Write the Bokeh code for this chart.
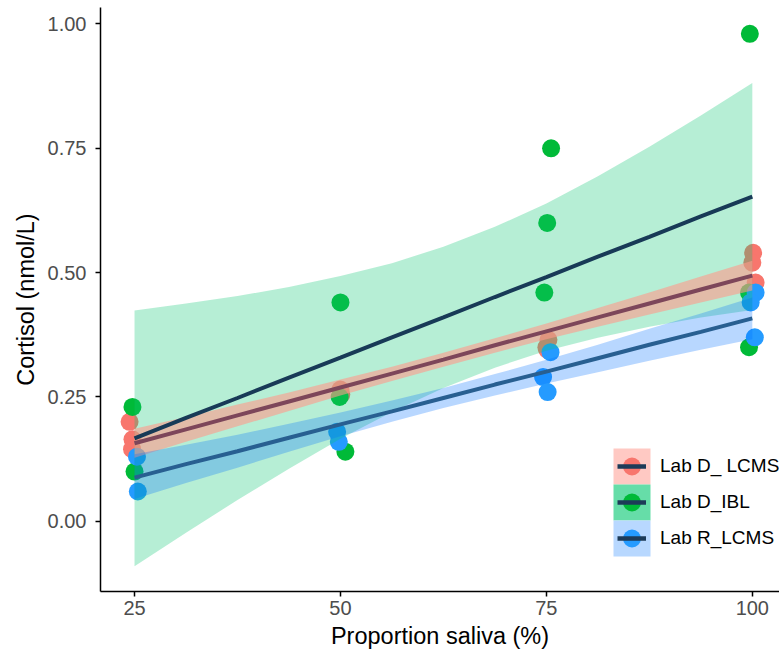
from bokeh.plotting import figure
from bokeh.models import (Range1d, FixedTicker, Legend, LegendItem, ColumnDataSource,
                          CustomJSTickFormatter)
from bokeh.embed import file_html
from bokeh.resources import INLINE

# ---------------- data ----------------
groups = ["Lab D_ LCMS", "Lab D_IBL", "Lab R_LCMS"]

lcms_d_x = [24.4, 24.75, 24.7, 50.0, 50.1, 75.25, 75.0, 75.1, 100.1, 100.0, 100.4]
lcms_d_y = [0.20, 0.165, 0.145, 0.265, 0.255, 0.365, 0.35, 0.345, 0.54, 0.52, 0.48]

ibl_x = [24.75, 25.0, 50.0, 49.9, 50.6, 75.57, 75.1, 74.75, 99.7, 99.6, 99.6]
ibl_y = [0.23, 0.10, 0.44, 0.25, 0.14, 0.75, 0.60, 0.46, 0.98, 0.46, 0.35]

lcms_r_x = [25.3, 25.4, 49.6, 49.8, 75.5, 74.6, 75.15, 100.4, 99.8, 100.3]
lcms_r_y = [0.13, 0.06, 0.18, 0.16, 0.34, 0.29, 0.26, 0.46, 0.44, 0.37]

# fitted lines and confidence bands, read at these x positions
fit_x = [25, 31.25, 37.5, 43.75, 50, 56.25, 62.5, 68.75, 75, 81.25, 87.5, 93.75, 100]

lcms_d_fit = [0.157, 0.185, 0.213, 0.241, 0.269, 0.297, 0.325, 0.354, 0.382, 0.410, 0.438, 0.466, 0.494]
lcms_d_hi = [0.186, 0.210, 0.235, 0.259, 0.285, 0.311, 0.339, 0.368, 0.398, 0.429, 0.460, 0.492, 0.524]
lcms_d_lo = [0.128, 0.160, 0.191, 0.222, 0.253, 0.282, 0.311, 0.339, 0.366, 0.391, 0.416, 0.440, 0.464]

ibl_fit = [0.167, 0.208, 0.248, 0.289, 0.329, 0.370, 0.410, 0.451, 0.491, 0.532, 0.572, 0.613, 0.653]
ibl_hi = [0.424, 0.438, 0.453, 0.471, 0.493, 0.519, 0.552, 0.592, 0.639, 0.694, 0.753, 0.816, 0.881]
ibl_lo = [-0.090, -0.023, 0.043, 0.106, 0.166, 0.220, 0.268, 0.309, 0.343, 0.369, 0.391, 0.410, 0.425]

lcms_r_fit = [0.088, 0.115, 0.141, 0.168, 0.195, 0.221, 0.248, 0.275, 0.301, 0.328, 0.355, 0.381, 0.408]
lcms_r_hi = [0.135, 0.154, 0.174, 0.196, 0.219, 0.243, 0.268, 0.296, 0.325, 0.355, 0.387, 0.418, 0.450]
lcms_r_lo = [0.045, 0.077, 0.108, 0.140, 0.171, 0.200, 0.228, 0.253, 0.277, 0.300, 0.323, 0.345, 0.366]

x_ticks = [25, 50, 75, 100]
y_ticks = [0.0, 0.25, 0.5, 0.75, 1.0]
x_title = "Proportion saliva (%)"
y_title = "Cortisol (nmol/L)"

# ---------------- styling / layout ----------------
FONT = "Liberation Sans"
pt_colors = ["#F8766D", "#00BA38", "#259BFF"]
band_colors = ["#FF998B", "#0CC673", "#006FFF"]
band_alpha = [0.6, 0.30, 0.28]
line_colors = ["#7D465A", "#183A57", "#285F91"]
key_colors = ["#FFC9C3", "#66DDA8", "#B8D8FF"]
NAVY = "#1D3B58"

W, H = 779, 657
BL, BR, BT, BB = 100, 0, 7, 66
FW, FH = W - BL - BR, H - BT - BB          # frame size in px

p = figure(width=W, height=H, output_backend="svg", toolbar_location=None,
           x_range=Range1d(20.87, 103.3), y_range=Range1d(-0.141, 1.033),
           min_border_left=BL, min_border_right=BR, min_border_top=BT,
           min_border_bottom=BB)
# pixel-space ranges of the frame, used for the legend key backgrounds
p.extra_x_ranges = {"px": Range1d(0, FW)}
p.extra_y_ranges = {"px": Range1d(0, FH)}
p.outline_line_color = None
p.xgrid.visible = False
p.ygrid.visible = False
p.background_fill_color = "white"
p.border_fill_color = "white"

# points (drawn first; ribbons overlay them)
pts = [(lcms_d_x, lcms_d_y), (ibl_x, ibl_y), (lcms_r_x, lcms_r_y)]
for (xs, ys), c in zip(pts, pt_colors):
    p.scatter(x=xs, y=ys, size=18, fill_color=c, line_color=None)

# ribbons: green first, then red, then blue
bands = [(lcms_d_lo, lcms_d_hi), (ibl_lo, ibl_hi), (lcms_r_lo, lcms_r_hi)]
for i in [1, 0, 2]:
    lo, hi = bands[i]
    p.varea(x=fit_x, y1=lo, y2=hi, fill_color=band_colors[i], fill_alpha=band_alpha[i])

# fitted lines
fits = [lcms_d_fit, ibl_fit, lcms_r_fit]
for i in [0, 2, 1]:
    p.line(x=fit_x, y=fits[i], line_color=line_colors[i], line_width=4)

# axes
p.xaxis.ticker = FixedTicker(ticks=x_ticks)
p.yaxis.ticker = FixedTicker(ticks=y_ticks)
p.yaxis.formatter = CustomJSTickFormatter(code="return tick.toFixed(2);")
for ax in (p.xaxis, p.yaxis):
    ax.axis_line_color = "black"
    ax.axis_line_width = 1.5
    ax.major_tick_line_color = "black"
    ax.major_tick_line_width = 1.5
    ax.major_tick_out = 5
    ax.major_tick_in = 0
    ax.minor_tick_line_color = None
    ax.major_label_text_font = FONT
    ax.major_label_text_font_size = "20px"
    ax.major_label_text_color = "#4D4D4D"
    ax.axis_label_text_font = FONT
    ax.axis_label_text_font_size = "23.5px"
    ax.axis_label_text_font_style = "normal"
    ax.axis_label_text_color = "black"
p.xaxis.axis_label = x_title
p.yaxis.axis_label = y_title
p.xaxis.major_label_standoff = 4
p.yaxis.major_label_standoff = 9
p.xaxis.axis_label_standoff = 5
p.yaxis.axis_label_standoff = 6

# ---------------- legend ----------------
KEY_L, KEY_W, KEY_H = 513, 37, 36        # key box geometry (frame px)
LEG_BOTTOM = 35                           # legend bottom (frame px)
n = len(groups)
key_src = ColumnDataSource(data=dict(
    l=[KEY_L] * n, r=[KEY_L + KEY_W] * n,
    t=[LEG_BOTTOM + (n - i) * KEY_H for i in range(n)],
    b=[LEG_BOTTOM + (n - i - 1) * KEY_H for i in range(n)],
    cx=[KEY_L + KEY_W / 2] * n,
    cy=[LEG_BOTTOM + (n - i - 0.5) * KEY_H for i in range(n)],
    fill=key_colors, dot=pt_colors))
p.quad(left="l", right="r", top="t", bottom="b", source=key_src, fill_color="fill",
       line_color=None, x_range_name="px", y_range_name="px")
p.scatter(x="cx", y="cy", source=key_src, size=18, fill_color="dot", line_color=None,
          x_range_name="px", y_range_name="px")

items = []
for name in groups:
    src = ColumnDataSource(data=dict(x=[-100, -99], y=[-100, -100]))
    ln = p.line(x="x", y="y", source=src, line_color=NAVY, line_width=4.5)
    items.append(LegendItem(label=name, renderers=[ln]))

LINE_W = 29
line_left = KEY_L + (KEY_W - LINE_W) // 2
legend = Legend(items=items, location=(line_left, LEG_BOTTOM),
                orientation="vertical", glyph_width=LINE_W, glyph_height=KEY_H,
                label_height=KEY_H, spacing=0, padding=0, margin=0,
                label_standoff=int(KEY_L + KEY_W + 10 - (line_left + LINE_W)),
                border_line_alpha=0, background_fill_alpha=0,
                label_text_font=FONT, label_text_font_size="19px",
                label_text_color="black")
p.add_layout(legend, "center")

open("out.html", "w").write(file_html(p, INLINE))
